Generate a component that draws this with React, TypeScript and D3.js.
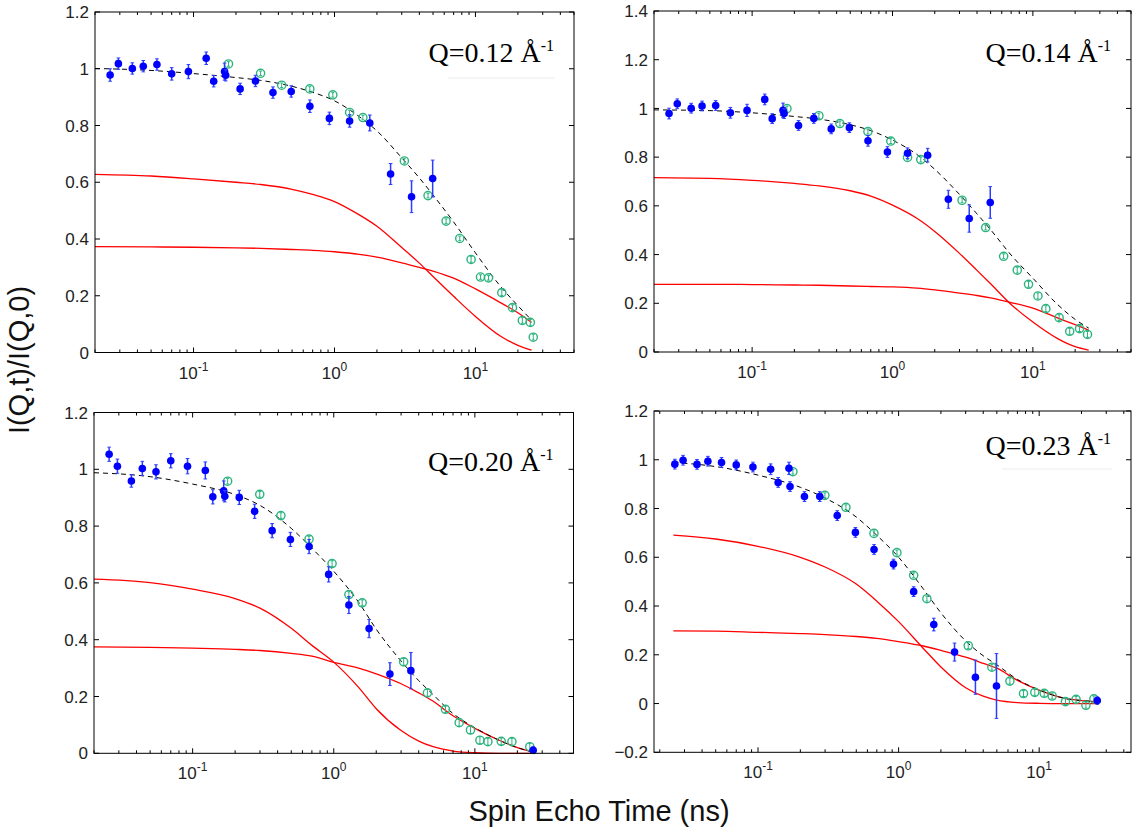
import React from 'react';
import * as d3 from 'd3';

// ---------- shared tick labels ----------
const yTicksA = [0, 0.2, 0.4, 0.6, 0.8, 1, 1.2];
const yTicksB = [0, 0.2, 0.4, 0.6, 0.8, 1, 1.2, 1.4];
const yTicksD = [-0.2, 0, 0.2, 0.4, 0.6, 0.8, 1, 1.2];
const xMajor = [0.1, 1, 10];
const xMajorLabels = ['-1', '0', '1'];
const xLabel = 'Spin Echo Time (ns)';
const yLabel = 'I(Q,t)/I(Q,0)';
const qLabels = ['Q=0.12 Å', 'Q=0.14 Å', 'Q=0.20 Å', 'Q=0.23 Å'];

// ---------- panel 1 (Q=0.12) ----------
const blueT1 = [0.0256, 0.0293, 0.0368, 0.044, 0.055, 0.070, 0.092, 0.123, 0.139, 0.166, 0.169, 0.214, 0.275, 0.366, 0.493, 0.669, 0.92, 1.28, 1.78, 2.50, 3.52, 4.97];
const blueY1 = [0.978, 1.018, 1.001, 1.009, 1.015, 0.982, 0.990, 1.037, 0.956, 0.990, 0.977, 0.929, 0.957, 0.916, 0.920, 0.868, 0.825, 0.816, 0.809, 0.629, 0.549, 0.613];
const blueE1 = [0.022, 0.02, 0.02, 0.02, 0.02, 0.022, 0.025, 0.022, 0.02, 0.03, 0.02, 0.02, 0.02, 0.02, 0.02, 0.022, 0.022, 0.022, 0.028, 0.037, 0.056, 0.065];
const greenT1 = [0.177, 0.299, 0.422, 0.668, 0.973, 1.28, 1.59, 3.13, 4.61, 6.19, 7.74, 9.31, 10.86, 12.37, 15.38, 18.3, 21.5, 24.5, 25.7];
const greenY1 = [1.017, 0.984, 0.942, 0.929, 0.908, 0.846, 0.828, 0.675, 0.553, 0.463, 0.402, 0.328, 0.266, 0.263, 0.211, 0.158, 0.113, 0.106, 0.054];
const greenE1 = [0.008, 0.008, 0.008, 0.008, 0.008, 0.008, 0.008, 0.008, 0.008, 0.008, 0.008, 0.01, 0.008, 0.008, 0.01, 0.01, 0.01, 0.01, 0.01];
const fitT1 = [0.02, 0.05, 0.1, 0.2, 0.3, 0.5, 0.7, 1, 1.5, 2, 3, 4, 5, 7, 10, 15, 20, 25];
const redA1 = [0.628, 0.622, 0.612, 0.600, 0.592, 0.575, 0.557, 0.532, 0.485, 0.445, 0.370, 0.315, 0.268, 0.198, 0.127, 0.058, 0.025, 0.008];
const redB1 = [0.373, 0.372, 0.371, 0.369, 0.367, 0.363, 0.360, 0.355, 0.346, 0.336, 0.316, 0.300, 0.287, 0.262, 0.224, 0.176, 0.140, 0.106];
const fit1 = [1.001, 0.994, 0.983, 0.969, 0.959, 0.938, 0.917, 0.887, 0.831, 0.781, 0.686, 0.615, 0.555, 0.460, 0.351, 0.234, 0.165, 0.114];

// ---------- panel 2 (Q=0.14) ----------
const blueT2 = [0.0256, 0.0293, 0.0368, 0.044, 0.055, 0.070, 0.092, 0.123, 0.139, 0.166, 0.169, 0.214, 0.275, 0.366, 0.493, 0.669, 0.92, 1.28, 1.78, 2.50, 3.52, 4.97];
const blueY2 = [0.979, 1.019, 1.001, 1.010, 1.012, 0.982, 0.992, 1.037, 0.958, 0.992, 0.979, 0.930, 0.959, 0.916, 0.921, 0.867, 0.821, 0.816, 0.808, 0.627, 0.548, 0.614];
const blueE2 = [0.022, 0.02, 0.02, 0.02, 0.02, 0.022, 0.025, 0.022, 0.02, 0.03, 0.02, 0.02, 0.02, 0.02, 0.02, 0.022, 0.022, 0.022, 0.028, 0.037, 0.056, 0.065];
const greenT2 = [0.177, 0.299, 0.422, 0.668, 0.973, 1.28, 1.59, 3.13, 4.61, 6.19, 7.74, 9.31, 10.86, 12.37, 15.38, 18.3, 21.5, 24.5];
const greenY2 = [0.999, 0.970, 0.938, 0.905, 0.866, 0.799, 0.790, 0.623, 0.511, 0.393, 0.336, 0.278, 0.230, 0.178, 0.141, 0.085, 0.096, 0.072];
const greenE2 = [0.01, 0.01, 0.01, 0.01, 0.01, 0.01, 0.01, 0.01, 0.01, 0.01, 0.012, 0.012, 0.012, 0.012, 0.012, 0.012, 0.012, 0.012];
const fitT2 = [0.02, 0.05, 0.1, 0.2, 0.3, 0.5, 0.7, 1, 1.5, 2, 3, 4, 5, 7, 10, 15, 20, 25];
const redA2 = [0.716, 0.713, 0.705, 0.692, 0.682, 0.662, 0.640, 0.603, 0.548, 0.495, 0.405, 0.335, 0.280, 0.195, 0.123, 0.055, 0.022, 0.008];
const redB2 = [0.278, 0.278, 0.277, 0.275, 0.274, 0.271, 0.269, 0.267, 0.262, 0.255, 0.242, 0.232, 0.222, 0.203, 0.180, 0.140, 0.112, 0.090];
const fit2 = [0.994, 0.991, 0.982, 0.967, 0.956, 0.933, 0.909, 0.870, 0.810, 0.750, 0.647, 0.567, 0.502, 0.398, 0.303, 0.195, 0.134, 0.098];

// ---------- panel 3 (Q=0.20) ----------
const blueT3 = [0.0256, 0.0293, 0.0368, 0.044, 0.055, 0.070, 0.092, 0.123, 0.139, 0.166, 0.169, 0.214, 0.275, 0.366, 0.493, 0.669, 0.92, 1.28, 1.78, 2.50, 3.52, 25.9];
const blueY3 = [1.053, 1.011, 0.959, 1.003, 0.991, 1.030, 1.011, 0.996, 0.903, 0.924, 0.905, 0.901, 0.852, 0.784, 0.753, 0.728, 0.630, 0.522, 0.439, 0.279, 0.291, 0.011];
const blueE3 = [0.025, 0.025, 0.022, 0.025, 0.025, 0.025, 0.027, 0.03, 0.025, 0.035, 0.02, 0.025, 0.025, 0.025, 0.025, 0.025, 0.027, 0.03, 0.032, 0.04, 0.064, 0.012];
const greenT3 = [0.177, 0.299, 0.422, 0.668, 0.973, 1.28, 1.59, 3.13, 4.61, 6.19, 7.74, 9.31, 10.86, 12.37, 15.38, 18.3, 24.5];
const greenY3 = [0.958, 0.912, 0.837, 0.754, 0.668, 0.559, 0.530, 0.322, 0.213, 0.155, 0.108, 0.082, 0.046, 0.041, 0.042, 0.041, 0.023];
const greenE3 = [0.01, 0.01, 0.01, 0.01, 0.01, 0.01, 0.01, 0.012, 0.012, 0.012, 0.012, 0.012, 0.012, 0.012, 0.012, 0.012, 0.012];
const fitT3 = [0.02, 0.05, 0.1, 0.2, 0.3, 0.5, 0.7, 1, 1.5, 2, 3, 4, 5, 7, 10, 15, 20, 25];
const redA3 = [0.613, 0.601, 0.578, 0.545, 0.511, 0.440, 0.380, 0.321, 0.232, 0.157, 0.080, 0.043, 0.024, 0.008, 0.002, 0.0, 0.0, 0.0];
const redB3 = [0.375, 0.373, 0.370, 0.366, 0.362, 0.352, 0.342, 0.320, 0.300, 0.280, 0.245, 0.213, 0.185, 0.132, 0.088, 0.045, 0.020, 0.006];
const fit3 = [0.988, 0.974, 0.948, 0.911, 0.873, 0.792, 0.722, 0.641, 0.532, 0.437, 0.325, 0.256, 0.209, 0.140, 0.090, 0.045, 0.020, 0.006];

// ---------- panel 4 (Q=0.23) ----------
const blueT4 = [0.0256, 0.0293, 0.0368, 0.044, 0.055, 0.070, 0.092, 0.123, 0.139, 0.166, 0.169, 0.214, 0.275, 0.366, 0.493, 0.669, 0.92, 1.28, 1.78, 2.50, 3.52, 4.97, 25.9];
const blueY4 = [0.982, 0.998, 0.981, 0.994, 0.989, 0.979, 0.970, 0.961, 0.907, 0.965, 0.890, 0.849, 0.849, 0.771, 0.702, 0.632, 0.572, 0.459, 0.324, 0.211, 0.108, 0.072, 0.012];
const blueE4 = [0.02, 0.02, 0.02, 0.02, 0.02, 0.02, 0.02, 0.022, 0.02, 0.025, 0.02, 0.02, 0.02, 0.02, 0.02, 0.02, 0.02, 0.02, 0.026, 0.037, 0.07, 0.133, 0.015];
const greenT4 = [0.177, 0.299, 0.422, 0.668, 0.973, 1.28, 1.59, 3.13, 4.61, 6.19, 7.74, 9.31, 10.86, 12.37, 15.38, 18.3, 21.5, 24.5];
const greenY4 = [0.951, 0.854, 0.805, 0.698, 0.619, 0.526, 0.430, 0.237, 0.149, 0.092, 0.041, 0.046, 0.042, 0.031, 0.008, 0.017, -0.007, 0.019];
const greenE4 = [0.01, 0.01, 0.01, 0.01, 0.01, 0.01, 0.01, 0.012, 0.012, 0.012, 0.012, 0.012, 0.012, 0.012, 0.012, 0.012, 0.012, 0.012];
const fitT4 = [0.025, 0.05, 0.1, 0.2, 0.3, 0.5, 0.7, 1, 1.5, 2, 3, 4, 5, 7, 10, 15, 20, 26];
const redA4 = [0.691, 0.675, 0.645, 0.600, 0.560, 0.490, 0.420, 0.336, 0.226, 0.150, 0.065, 0.030, 0.014, 0.004, 0.001, 0.0, 0.0, 0.0];
const redB4 = [0.298, 0.297, 0.292, 0.287, 0.283, 0.275, 0.267, 0.254, 0.236, 0.218, 0.190, 0.165, 0.145, 0.095, 0.055, 0.022, 0.012, 0.008];
const fit4 = [0.989, 0.972, 0.937, 0.887, 0.843, 0.765, 0.690, 0.600, 0.470, 0.372, 0.257, 0.196, 0.159, 0.099, 0.056, 0.022, 0.012, 0.008];

const SANS = '"Liberation Sans", Arial, Helvetica, sans-serif';
const SERIF = '"Liberation Serif", "Times New Roman", serif';
const BLUE = '#0000ff';
const BLUE_BAR = '#2b3dff';
const GREEN = '#2cb47f';
const RED = '#ff0000';

type PanelProps = {
  box: [number, number, number, number];
  xDomain: [number, number];
  yDomain: [number, number];
  yTicks: number[];
  blueT: number[]; blueY: number[]; blueE: number[];
  greenT: number[]; greenY: number[]; greenE: number[];
  fitT: number[]; redA: number[]; redB: number[]; fit: number[];
  label: string; labelY: number;
  underline?: [number, number, number] | null;
};

function fmtY(v: number) {
  if (Math.abs(v) < 1e-9) return '0';
  const s = d3.format('~g')(v);
  return s.replace('-', '\u2212');
}

function Panel(p: PanelProps) {
  const [x0, y0, x1, y1] = p.box;
  const x = d3.scaleLog().domain(p.xDomain).range([x0, x1]);
  const y = d3.scaleLinear().domain(p.yDomain).range([y1, y0]);
  const line = d3.line<number>()
    .x((_, i) => x(p.fitT[i]))
    .curve(d3.curveMonotoneX);
  const mk = (arr: number[]) => line.y((v) => y(v))(arr) || '';
  const allTicks = x.ticks();
  const isMajor = (v: number) => Math.abs(Math.log10(v) - Math.round(Math.log10(v))) < 1e-6;
  const TL = 5, TM = 3;
  return (
    <g>
      {/* fits */}
      <path d={mk(p.redA)} fill="none" stroke={RED} strokeWidth={1.3} />
      <path d={mk(p.redB)} fill="none" stroke={RED} strokeWidth={1.3} />
      <path d={mk(p.fit)} fill="none" stroke="#000" strokeWidth={1} strokeDasharray="5,4" />
      {/* green open markers */}
      {p.greenT.map((t, i) => {
        const cx = x(t), cy = y(p.greenY[i]);
        const ya = y(p.greenY[i] + p.greenE[i]), yb = y(p.greenY[i] - p.greenE[i]);
        return (
          <g key={'g' + i}>
            <line x1={cx} x2={cx} y1={ya} y2={yb} stroke={GREEN} strokeWidth={1} />
            <line x1={cx - 1.5} x2={cx + 1.5} y1={ya} y2={ya} stroke={GREEN} strokeWidth={1} />
            <line x1={cx - 1.5} x2={cx + 1.5} y1={yb} y2={yb} stroke={GREEN} strokeWidth={1} />
            <circle cx={cx} cy={cy} r={4.1} fill="none" stroke={GREEN} strokeWidth={1.4} />
          </g>
        );
      })}
      {/* blue filled markers */}
      {p.blueT.map((t, i) => {
        const cx = x(t), cy = y(p.blueY[i]);
        const ya = y(p.blueY[i] + p.blueE[i]), yb = y(p.blueY[i] - p.blueE[i]);
        return (
          <g key={'b' + i}>
            <line x1={cx} x2={cx} y1={ya} y2={yb} stroke={BLUE_BAR} strokeWidth={1.5} />
            <line x1={cx - 1.8} x2={cx + 1.8} y1={ya} y2={ya} stroke={BLUE_BAR} strokeWidth={1} />
            <line x1={cx - 1.8} x2={cx + 1.8} y1={yb} y2={yb} stroke={BLUE_BAR} strokeWidth={1} />
            <circle cx={cx} cy={cy} r={3.8} fill={BLUE} />
          </g>
        );
      })}
      {/* axes box */}
      <rect x={x0} y={y0} width={x1 - x0} height={y1 - y0} fill="none" stroke="#000" strokeWidth={1} />
      {allTicks.map((v, i) => {
        const xx = x(v);
        const len = isMajor(v) ? TL : TM;
        return (
          <g key={'xt' + i}>
            <line x1={xx} x2={xx} y1={y1} y2={y1 - len} stroke="#000" strokeWidth={1} />
            <line x1={xx} x2={xx} y1={y0} y2={y0 + len} stroke="#000" strokeWidth={1} />
          </g>
        );
      })}
      {xMajor.map((v, i) => (
        <text key={'xl' + i} x={x(v)} y={y1 + 26} textAnchor="middle" fontFamily={SANS} fontSize={17} fill="#222">
          10<tspan fontSize={12} dy={-8}>{xMajorLabels[i]}</tspan>
        </text>
      ))}
      {p.yTicks.map((v, i) => (
        <g key={'yt' + i}>
          <line x1={x0} x2={x0 + TL} y1={y(v)} y2={y(v)} stroke="#000" strokeWidth={1} />
          <line x1={x1} x2={x1 - TL} y1={y(v)} y2={y(v)} stroke="#000" strokeWidth={1} />
          <text x={x0 - 6} y={y(v)} dy="0.36em" textAnchor="end" fontFamily={SANS} fontSize={17} fill="#222">{fmtY(v)}</text>
        </g>
      ))}
      {p.underline && (
        <line x1={p.underline[0]} x2={p.underline[1]} y1={p.underline[2]} y2={p.underline[2]} stroke="#ececec" strokeWidth={1} />
      )}
      <text x={x1 - 20} y={p.labelY} textAnchor="end" fontFamily={SERIF} fontSize={28} fill="#000">
        {p.label}<tspan fontSize={16} dy={-11}>-1</tspan>
      </text>
    </g>
  );
}

export default function App() {
  return (
    <div style={{ position: 'absolute', left: 0, top: 0, width: 1133, height: 834, background: '#fff' }}>
      <svg width={1133} height={834} style={{ display: 'block' }}>
        <rect x={0} y={0} width={1133} height={834} fill="#fff" />
        <Panel box={[95, 12, 574, 352.5]} xDomain={[0.02, 50]} yDomain={[0, 1.2]} yTicks={yTicksA}
          blueT={blueT1} blueY={blueY1} blueE={blueE1} greenT={greenT1} greenY={greenY1} greenE={greenE1}
          fitT={fitT1} redA={redA1} redB={redB1} fit={fit1} label={qLabels[0]} labelY={62} underline={[448, 555, 78]} />
        <Panel box={[654, 11, 1131, 352]} xDomain={[0.02, 50]} yDomain={[0, 1.4]} yTicks={yTicksB}
          blueT={blueT2} blueY={blueY2} blueE={blueE2} greenT={greenT2} greenY={greenY2} greenE={greenE2}
          fitT={fitT2} redA={redA2} redB={redB2} fit={fit2} label={qLabels[1]} labelY={62} />
        <Panel box={[94, 412.5, 573.5, 753.3]} xDomain={[0.02, 50]} yDomain={[0, 1.2]} yTicks={yTicksA}
          blueT={blueT3} blueY={blueY3} blueE={blueE3} greenT={greenT3} greenY={greenY3} greenE={greenE3}
          fitT={fitT3} redA={redA3} redB={redB3} fit={fit3} label={qLabels[2]} labelY={471} />
        <Panel box={[654, 411, 1131, 752.3]} xDomain={[0.0182, 45]} yDomain={[-0.2, 1.2]} yTicks={yTicksD}
          blueT={blueT4} blueY={blueY4} blueE={blueE4} greenT={greenT4} greenY={greenY4} greenE={greenE4}
          fitT={fitT4} redA={redA4} redB={redB4} fit={fit4} label={qLabels[3]} labelY={455} underline={[1002, 1112, 469]} />
        <text x={599} y={821} textAnchor="middle" fontFamily={SANS} fontSize={29} fill="#111">{xLabel}</text>
        <text transform="translate(29,360) rotate(-90)" textAnchor="middle" fontFamily={SANS} fontSize={29} fill="#111">{yLabel}</text>
      </svg>
    </div>
  );
}
